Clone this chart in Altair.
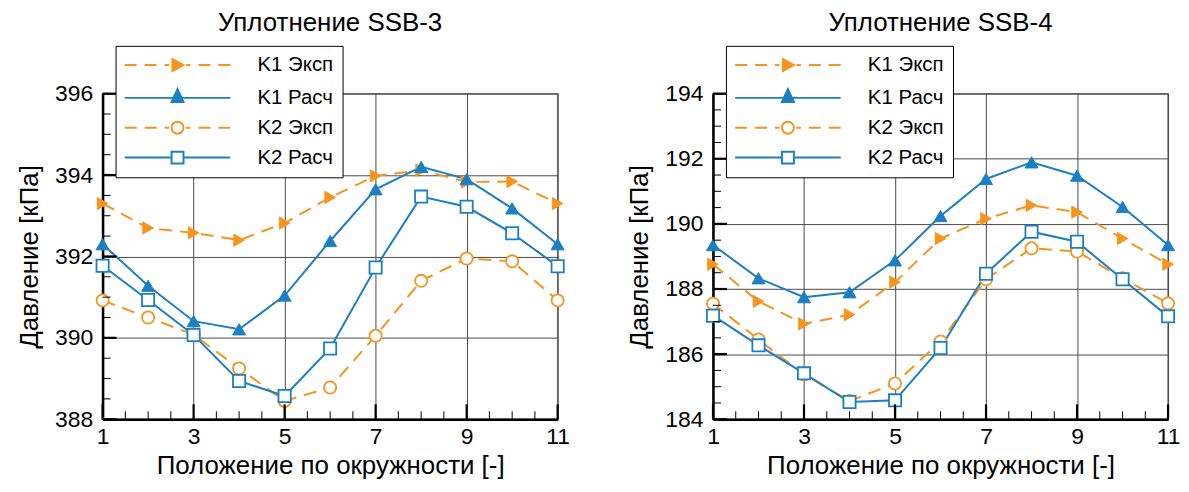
import altair as alt
import pandas as pd

# ---------------- data ----------------
positions = list(range(1, 12))
series_names = ["K1 Эксп", "K1 Расч", "K2 Эксп", "K2 Расч"]

ssb3_k1_exp = [393.30, 392.70, 392.58, 392.40, 392.82, 393.45, 393.98, 394.12, 393.83, 393.84, 393.30]
ssb3_k1_calc = [392.30, 391.28, 390.41, 390.21, 391.04, 392.38, 393.65, 394.20, 393.90, 393.18, 392.30]
ssb3_k2_exp = [390.92, 390.50, 390.08, 389.25, 388.45, 388.78, 390.05, 391.40, 391.95, 391.88, 390.92]
ssb3_k2_calc = [391.77, 390.93, 390.07, 388.94, 388.57, 389.74, 391.73, 393.47, 393.22, 392.57, 391.76]

ssb4_k1_exp = [188.76, 187.62, 186.93, 187.21, 188.21, 189.55, 190.16, 190.57, 190.36, 189.55, 188.76]
ssb4_k1_calc = [189.35, 188.33, 187.75, 187.90, 188.88, 190.24, 191.38, 191.89, 191.48, 190.52, 189.35]
ssb4_k2_exp = [187.55, 186.45, 185.37, 184.56, 185.10, 186.39, 188.30, 189.25, 189.15, 188.33, 187.56]
ssb4_k2_calc = [187.18, 186.27, 185.41, 184.53, 184.58, 186.19, 188.47, 189.76, 189.45, 188.30, 187.16]

x_major = [1, 3, 5, 7, 9, 11]
x_minor = [1.5, 2, 2.5, 3.5, 4, 4.5, 5.5, 6, 6.5, 7.5, 8, 8.5, 9.5, 10, 10.5]

ssb3_y_major = [388, 390, 392, 394, 396]
ssb3_y_minor = [388.5, 389, 389.5, 390.5, 391, 391.5, 392.5, 393, 393.5, 394.5, 395, 395.5]
ssb4_y_major = [184, 186, 188, 190, 192, 194]
ssb4_y_minor = [184.5, 185, 185.5, 186.5, 187, 187.5, 188.5, 189, 189.5,
                190.5, 191, 191.5, 192.5, 193, 193.5]

# ---------------- style ----------------
ORANGE = "#f7941d"
BLUE = "#1b7fc3"
FONT = "Liberation Sans"
W, H = 457, 327
DASH = [13, 8]

# ---- legend symbol paths (line + marker drawn as one custom symbol) ----
SYM_SIZE = 256          # nominal legend symbol size -> 8 px per path unit
U = 8.0                 # px per path unit
CEN = 8.0               # symbol centre inside legend content (px)
L0, L1, MC, MR = -2.0, 104.0, 51.0, 6.0   # line start/end, marker centre, marker half size (px)


def u(px):
    return round((px - CEN) / U, 4)


def hseg(a, b):
    return f"M{u(a)},0H{u(b)}"


def dashed(a, b, dash=12.0, gap=8.0, reverse=False):
    segs = []
    if not reverse:
        x = a
        while x < b:
            segs.append(hseg(x, min(x + dash, b)))
            x += dash + gap
    else:
        x = b
        while x > a:
            segs.append(hseg(max(x - dash, a), x))
            x -= dash + gap
    return "".join(segs)


def tri_right():
    r = MR / U
    c = u(MC)
    return f"M{round(c - r * 0.85, 4)},{-r}L{round(c + r, 4)},0L{round(c - r * 0.85, 4)},{r}Z"


def tri_up():
    r = MR / U
    c = u(MC)
    return f"M{c},{round(-r * 1.45, 4)}L{round(c + r, 4)},{round(r * 0.7, 4)}L{round(c - r, 4)},{round(r * 0.7, 4)}Z"


def circ():
    r = round(MR / U, 4)
    c = u(MC)
    return f"M{round(c + r, 4)},0A{r},{r},0,1,1,{round(c - r, 4)},0A{r},{r},0,1,1,{round(c + r, 4)},0Z"


def sq():
    r = round(MR / U, 4)
    c = u(MC)
    return f"M{round(c - r, 4)},{-r}H{round(c + r, 4)}V{r}H{round(c - r, 4)}Z"


legend_paths = [
    dashed(L0, MC - MR - 2.5) + dashed(MC + MR + 2.5, L1, reverse=True) + tri_right(),
    hseg(L0, L1) + tri_up(),
    dashed(L0, MC - MR - 2.5) + dashed(MC + MR + 2.5, L1, reverse=True) + circ(),
    hseg(L0, MC - MR) + hseg(MC + MR, L1) + sq(),
]
series_stroke = [ORANGE, BLUE, ORANGE, BLUE]
series_fill = [ORANGE, BLUE, "white", "white"]


def panel(title, values, y_major, y_minor):
    rows = []
    for name, vals in zip(series_names, values):
        for p, v in zip(positions, vals):
            rows.append({"pos": p, "val": v, "series": name})
    df = pd.DataFrame(rows)
    ymin, ymax = y_major[0], y_major[-1]

    xs = alt.Scale(domain=[1, 11], nice=False, zero=False)
    ys = alt.Scale(domain=[ymin, ymax], nice=False, zero=False)

    common = dict(ticks=False, labelFlush=False, format="d",
                  labelFontSize=23, titleFontSize=26, labelFont=FONT, titleFont=FONT,
                  labelColor="black", titleColor="black", titleFontWeight="normal",
                  domainColor="black", domainWidth=2.5, gridColor="#4a4a4a", gridWidth=1)
    x_enc = alt.X("pos:Q", scale=xs, axis=alt.Axis(
        values=x_major, title="Положение по окружности [-]",
        labelPadding=6, titlePadding=4, **common))
    y_enc = alt.Y("val:Q", scale=ys, axis=alt.Axis(
        values=y_major, title="Давление [кПа]",
        labelPadding=10, titlePadding=12, **common))

    base = alt.Chart(df)
    layers = []

    # lines
    styles = [
        dict(color=ORANGE, strokeDash=DASH),
        dict(color=BLUE),
        dict(color=ORANGE, strokeDash=DASH),
        dict(color=BLUE),
    ]
    for name, st in zip(series_names, styles):
        layers.append(base.transform_filter(alt.datum.series == name)
                      .mark_line(strokeWidth=2, **st)
                      .encode(x=x_enc, y=y_enc))
    # markers
    mstyles = [
        dict(shape="triangle-right", fill=ORANGE, stroke=ORANGE, size=150, strokeWidth=1),
        dict(shape="triangle-up", fill=BLUE, stroke=BLUE, size=170, strokeWidth=1),
        dict(shape="circle", fill="white", stroke=ORANGE, size=150, strokeWidth=1.8),
        dict(shape="square", fill="white", stroke=BLUE, size=150, strokeWidth=1.8),
    ]
    for name, st in zip(series_names, mstyles):
        layers.append(base.transform_filter(alt.datum.series == name)
                      .mark_point(opacity=1, **st)
                      .encode(x="pos:Q", y="val:Q"))

    # inward tick marks
    xmaj = pd.DataFrame({"t": x_major})
    xmin = pd.DataFrame({"t": x_minor})
    ymaj = pd.DataFrame({"t": y_major})
    ymin_df = pd.DataFrame({"t": y_minor})
    layers.append(alt.Chart(xmaj).mark_rule(color="black", strokeWidth=2.2, y2Offset=-15)
                  .encode(x="t:Q", y=alt.datum(ymin), y2=alt.datum(ymin)))
    layers.append(alt.Chart(xmin).mark_rule(color="black", strokeWidth=1, y2Offset=-8)
                  .encode(x="t:Q", y=alt.datum(ymin), y2=alt.datum(ymin)))
    layers.append(alt.Chart(ymaj).mark_rule(color="black", strokeWidth=2.2, x2Offset=14)
                  .encode(y="t:Q", x=alt.datum(1), x2=alt.datum(1)))
    layers.append(alt.Chart(ymin_df).mark_rule(color="black", strokeWidth=1, x2Offset=8)
                  .encode(y="t:Q", x=alt.datum(1), x2=alt.datum(1)))

    # legend-driving layer (invisible, tiny marks)
    leg = alt.Legend(orient="none", legendX=13, legendY=-48, title=None,
                     padding=9, strokeColor="black", fillColor="white",
                     labelFontSize=20.5, labelFont=FONT, labelColor="black",
                     labelOffset=113, rowPadding=9, symbolSize=SYM_SIZE,
                     symbolStrokeWidth=2, symbolOpacity=1, labelLimit=0)
    layers.append(base.mark_point(opacity=0, size=0.01, strokeWidth=0).encode(
        x="pos:Q", y="val:Q",
        shape=alt.Shape("series:N", scale=alt.Scale(domain=series_names, range=legend_paths), legend=leg),
        fill=alt.Fill("series:N", scale=alt.Scale(domain=series_names, range=series_fill), legend=leg),
        stroke=alt.Stroke("series:N", scale=alt.Scale(domain=series_names, range=series_stroke), legend=leg),
    ))

    return alt.layer(*layers).properties(
        width=W, height=H,
        title=alt.TitleParams(title, fontSize=26, font=FONT, fontWeight="normal",
                              color="black", anchor="middle", frame="group", offset=9),
    )


left = panel("Уплотнение SSB-3", [ssb3_k1_exp, ssb3_k1_calc, ssb3_k2_exp, ssb3_k2_calc],
             ssb3_y_major, ssb3_y_minor)
right = panel("Уплотнение SSB-4", [ssb4_k1_exp, ssb4_k1_calc, ssb4_k2_exp, ssb4_k2_calc],
              ssb4_y_major, ssb4_y_minor)

chart = alt.hconcat(left, right, spacing=55).properties(
    padding={"left": 7, "top": 0, "right": 0, "bottom": 0}
).configure_view(stroke="#777777", strokeWidth=1.5).resolve_scale(
    shape="independent", fill="independent", stroke="independent"
)

chart.save("out.html", embed_options={"renderer": "svg", "actions": False})
